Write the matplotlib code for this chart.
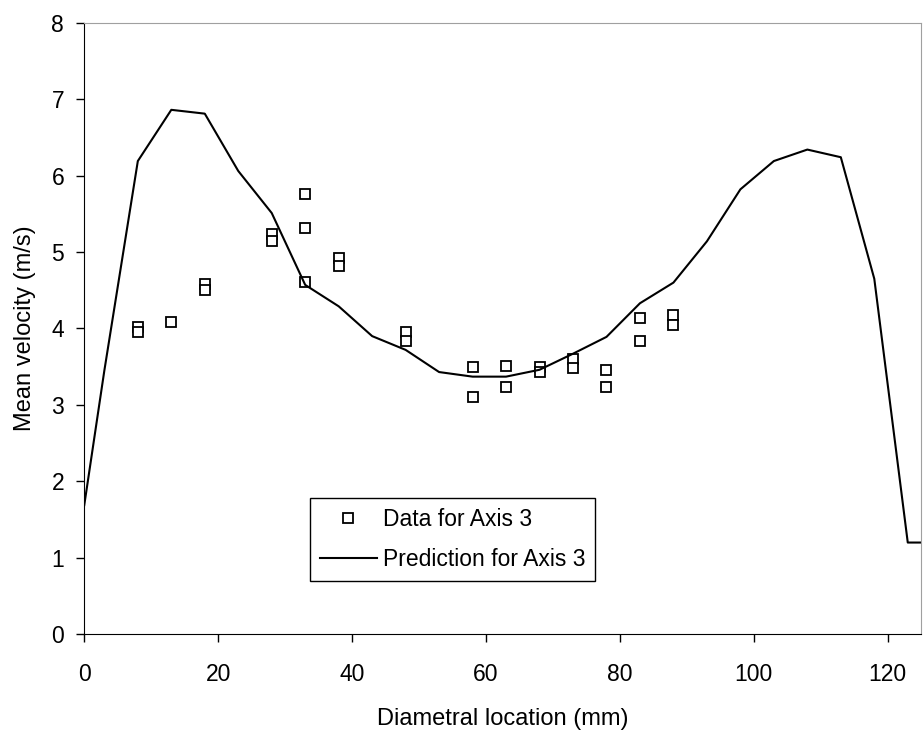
import matplotlib
matplotlib.use("Agg")
import matplotlib.pyplot as plt

plt.rcParams['font.family'] = ['Liberation Sans', 'DejaVu Sans']

# measured data (two readings at most stations)
data_x = [8, 8, 13, 18, 18, 28, 28, 33, 33, 33, 38, 38, 48, 48,
          58, 58, 63, 63, 68, 68, 73, 73, 78, 78, 83, 83, 88, 88]
data_y = [4.02, 3.95, 4.09, 4.58, 4.50, 5.24, 5.15, 5.76, 5.31, 4.61, 4.92, 4.82, 3.96, 3.84,
          3.49, 3.10, 3.51, 3.23, 3.49, 3.43, 3.60, 3.48, 3.46, 3.23, 4.14, 3.83, 4.17, 4.04]

# prediction curve
pred_x = [0, 3, 8, 13, 18, 23, 28, 33, 38, 43, 48, 53, 58, 63, 68, 73, 78,
          83, 88, 93, 98, 103, 108, 113, 118, 123, 125]
pred_y = [1.69, 3.45, 6.19, 6.86, 6.81, 6.06, 5.51, 4.57, 4.29, 3.90, 3.72, 3.43, 3.37, 3.37,
          3.46, 3.67, 3.89, 4.33, 4.60, 5.14, 5.82, 6.19, 6.34, 6.24, 4.65, 1.20, 1.20]

fig = plt.figure(figsize=(9.23, 7.36), dpi=100)
ax = fig.add_axes([0.0913, 0.1382, 0.9067, 0.831])

ax.plot(data_x, data_y, linestyle='none', marker='s', markersize=7,
        markerfacecolor='white', markeredgecolor='black', markeredgewidth=1.3,
        label='Data for Axis 3')
ax.plot(pred_x, pred_y, color='black', linewidth=1.5, label='Prediction for Axis 3')

ax.set_xlim(0, 125)
ax.set_ylim(0, 8)
ax.set_xticks(range(0, 121, 20))
ax.set_yticks(range(0, 9))
ax.tick_params(direction='out', length=5.5, width=1, labelsize=16.5)
ax.tick_params(axis='x', pad=15)
ax.tick_params(axis='y', pad=9)

ax.set_xlabel('Diametral location (mm)', fontsize=17, labelpad=16)
ax.set_ylabel('Mean velocity (m/s)', fontsize=17, labelpad=11)

for s in ['top', 'right']:
    ax.spines[s].set_color('#a0a0a0')
for s in ['left', 'bottom']:
    ax.spines[s].set_color('black')

leg = ax.legend(loc='lower left', bbox_to_anchor=(0.2697, 0.0876), fontsize=16.5,
                frameon=True, fancybox=False, edgecolor='black', framealpha=1,
                borderaxespad=0, handlelength=2.5, borderpad=0.42,
                labelspacing=0.75, handletextpad=0.26)
leg.get_frame().set_linewidth(1.0)

fig.savefig('out.png', dpi=100)
